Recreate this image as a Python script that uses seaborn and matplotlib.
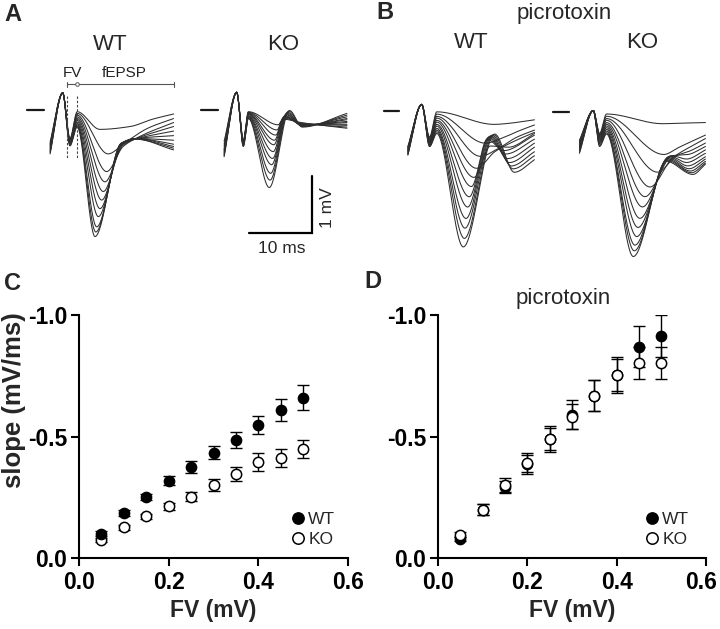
import numpy as np
import pandas as pd
import matplotlib
matplotlib.use("Agg")
import matplotlib.pyplot as plt
import matplotlib.transforms as mtransforms
from matplotlib.lines import Line2D
from matplotlib.ticker import FormatStrFormatter
import seaborn as sns

sns.set_theme(style="ticks")
plt.rcParams["font.family"] = ["Liberation Sans", "DejaVu Sans"]
plt.rcParams["axes.unicode_minus"] = False

# ---------------- data: bottom panels (slope vs fibre volley) ----------------
FV = [0.05, 0.10, 0.15, 0.20, 0.25, 0.30, 0.35, 0.40, 0.45, 0.50]

C_WT_mean = [-0.100, -0.185, -0.251, -0.318, -0.373, -0.434, -0.486, -0.547, -0.610, -0.660]
C_WT_sem = [0.010, 0.012, 0.014, 0.018, 0.025, 0.027, 0.032, 0.038, 0.046, 0.051]
C_KO_mean = [-0.073, -0.127, -0.171, -0.212, -0.253, -0.301, -0.345, -0.395, -0.411, -0.449]
C_KO_sem = [0.008, 0.010, 0.012, 0.014, 0.018, 0.024, 0.029, 0.036, 0.038, 0.038]

D_WT_mean = [-0.078, -0.199, -0.292, -0.385, -0.490, -0.589, -0.668, -0.753, -0.870, -0.914]
D_WT_sem = [0.010, 0.022, 0.025, 0.040, 0.054, 0.060, 0.065, 0.073, 0.085, 0.086]
D_KO_mean = [-0.096, -0.199, -0.301, -0.393, -0.490, -0.582, -0.668, -0.753, -0.804, -0.804]
D_KO_sem = [0.010, 0.022, 0.030, 0.040, 0.045, 0.050, 0.065, 0.066, 0.066, 0.066]

GROUPS = ["WT", "KO"]
X_TICKS = [0.0, 0.2, 0.4, 0.6]
Y_TICKS = [-1.0, -0.5, 0.0]

# ---------------- data: example traces (ms, mV) ----------------
# panel shape: (start time, stimulus artefact peak, FV trough time, FV peak time, end time)
A_WT_shape = (-2.0, 0.30, 1.15, 2.30, 17.6)
A_KO_shape = (-2.0, 0.31, 1.05, 1.85, 17.5)
B_WT_shape = (-2.2, 0.11, 1.25, 2.40, 17.9)
B_KO_shape = (-2.2, 0.03, 1.00, 2.10, 17.8)

# baseline stub before the artefact (ms)
A_WT_stub = [-5.67, -2.97]
A_KO_stub = [-5.60, -2.90]
B_WT_stub = [-5.95, -3.60]
B_KO_stub = [-6.40, -3.90]

# per trace: (start v, FV trough v, FV peak v, trough t, trough v, knee t, knee v, late t, late v, end v)
A_WT = [
    (-0.56, -0.50, -0.03, 5.90, -0.34, 10.70, -0.29, 14.3, -0.16, -0.07),
    (-0.59, -0.51, -0.06, 7.20, -0.77, 9.80, -0.58, 13.5, -0.32, -0.15),
    (-0.61, -0.53, -0.09, 6.98, -1.08, 9.60, -0.64, 12.5, -0.45, -0.22),
    (-0.63, -0.54, -0.12, 6.71, -1.26, 9.55, -0.62, 12.2, -0.48, -0.29),
    (-0.65, -0.55, -0.15, 6.45, -1.43, 9.50, -0.60, 11.9, -0.50, -0.37),
    (-0.67, -0.56, -0.18, 6.19, -1.58, 9.45, -0.59, 11.8, -0.50, -0.45),
    (-0.69, -0.57, -0.21, 5.92, -1.73, 9.40, -0.58, 11.7, -0.50, -0.53),
    (-0.71, -0.58, -0.24, 5.66, -1.87, 9.35, -0.58, 11.6, -0.50, -0.60),
    (-0.73, -0.60, -0.26, 5.40, -2.05, 9.30, -0.58, 11.6, -0.50, -0.64),
    (-0.75, -0.61, -0.28, 5.25, -2.14, 9.25, -0.59, 11.5, -0.51, -0.67),
    (-0.77, -0.63, -0.30, 5.13, -2.22, 9.20, -0.60, 11.5, -0.51, -0.70),
]
A_KO = [
    (-0.55, -0.53, -0.03, 6.60, -0.26, 7.30, -0.16, 10.2, -0.22, -0.32),
    (-0.60, -0.54, -0.04, 6.40, -0.35, 7.40, -0.14, 10.2, -0.23, -0.30),
    (-0.64, -0.55, -0.05, 6.20, -0.44, 7.50, -0.12, 10.2, -0.24, -0.27),
    (-0.68, -0.56, -0.06, 6.00, -0.53, 7.60, -0.11, 10.2, -0.25, -0.25),
    (-0.70, -0.57, -0.07, 5.90, -0.61, 7.70, -0.10, 10.2, -0.26, -0.22),
    (-0.72, -0.58, -0.08, 5.80, -0.73, 7.80, -0.08, 10.2, -0.26, -0.20),
    (-0.74, -0.59, -0.10, 5.70, -0.85, 7.90, -0.07, 10.3, -0.27, -0.17),
    (-0.76, -0.60, -0.11, 5.55, -0.96, 8.00, -0.05, 10.3, -0.28, -0.15),
    (-0.78, -0.61, -0.12, 5.40, -1.11, 8.10, -0.04, 10.3, -0.28, -0.12),
    (-0.80, -0.63, -0.14, 5.30, -1.23, 8.25, -0.02, 10.4, -0.29, -0.09),
    (-0.82, -0.64, -0.15, 5.17, -1.36, 8.40, -0.01, 10.4, -0.30, -0.06),
]
B_WT = [
    (-0.63, -0.46, -0.02, 11.50, -0.24, 14.0, -0.22, 16.0, -0.19, -0.16),
    (-0.64, -0.48, -0.06, 10.10, -0.57, 12.8, -0.48, 15.3, -0.36, -0.25),
    (-0.66, -0.50, -0.10, 9.30, -0.80, 12.2, -0.66, 15.0, -0.47, -0.34),
    (-0.67, -0.51, -0.13, 8.70, -1.01, 11.6, -0.72, 14.6, -0.54, -0.38),
    (-0.68, -0.53, -0.17, 8.30, -1.17, 10.9, -0.62, 13.8, -0.64, -0.40),
    (-0.70, -0.54, -0.20, 7.90, -1.33, 10.4, -0.50, 13.0, -0.70, -0.43),
    (-0.71, -0.56, -0.24, 7.55, -1.51, 10.6, -0.47, 13.3, -0.76, -0.50),
    (-0.72, -0.57, -0.27, 7.30, -1.69, 10.8, -0.45, 13.6, -0.84, -0.57),
    (-0.74, -0.59, -0.31, 7.03, -1.89, 11.0, -0.44, 13.9, -0.91, -0.64),
    (-0.75, -0.60, -0.34, 6.87, -2.06, 11.2, -0.43, 14.2, -0.97, -0.72),
    (-0.77, -0.62, -0.37, 6.77, -2.24, 11.4, -0.42, 14.5, -1.02, -0.79),
    (-0.78, -0.63, -0.40, 6.60, -2.39, 11.6, -0.41, 14.7, -1.08, -0.86),
]
B_KO = [
    (-0.49, -0.37, -0.03, 11.00, -0.20, 14.0, -0.19, 16.0, -0.185, -0.18),
    (-0.51, -0.39, -0.07, 11.20, -0.74, 13.5, -0.62, 15.8, -0.50, -0.40),
    (-0.53, -0.41, -0.11, 10.20, -1.05, 13.2, -0.75, 15.5, -0.60, -0.46),
    (-0.55, -0.43, -0.14, 9.00, -1.31, 12.8, -0.78, 15.3, -0.68, -0.54),
    (-0.57, -0.45, -0.18, 8.20, -1.48, 12.6, -0.76, 15.0, -0.74, -0.60),
    (-0.59, -0.47, -0.21, 7.80, -1.66, 12.4, -0.76, 14.8, -0.82, -0.66),
    (-0.61, -0.49, -0.24, 7.40, -1.86, 12.2, -0.77, 14.8, -0.88, -0.72),
    (-0.63, -0.51, -0.27, 7.10, -2.02, 12.0, -0.78, 15.0, -0.94, -0.78),
    (-0.65, -0.53, -0.30, 6.90, -2.18, 11.9, -0.80, 15.2, -0.99, -0.82),
    (-0.67, -0.55, -0.33, 6.60, -2.33, 11.8, -0.82, 15.4, -1.03, -0.86),
    (-0.70, -0.58, -0.36, 6.50, -2.43, 11.7, -0.84, 15.6, -1.06, -0.89),
    (-0.72, -0.60, -0.38, 6.35, -2.53, 11.6, -0.86, 15.8, -1.09, -0.91),
]

# ---------------- layout helpers ----------------
W, H = 720, 629
fig = plt.figure(figsize=(W / 100, H / 100), dpi=100)


def px_axes(left, top, right, bottom):
    return fig.add_axes([left / W, 1 - bottom / H, (right - left) / W, (bottom - top) / H])


def ftext(x, y, s, **kw):
    fig.text(x / W, 1 - y / H, s, **kw)


PX_MS, PX_MV = 6.3, 57.0
XL, YL = (-6.5, 19.0), (-2.65, 0.8)


def trace_axes(x0, y0):
    ax = px_axes(x0 + XL[0] * PX_MS, y0 - YL[1] * PX_MV, x0 + XL[1] * PX_MS, y0 - YL[0] * PX_MV)
    ax.set_xlim(XL)
    ax.set_ylim(YL)
    ax.axis("off")
    return ax


def smooth(xk, yk, xq):
    """monotone cubic curve through the read points (for drawing only)"""
    xk = np.asarray(xk, float)
    yk = np.asarray(yk, float)
    h = np.diff(xk)
    d = np.diff(yk) / h
    n = len(xk)
    m = np.zeros(n)
    for k in range(1, n - 1):
        if d[k - 1] * d[k] > 0:
            w1 = 2 * h[k] + h[k - 1]
            w2 = h[k] + 2 * h[k - 1]
            m[k] = (w1 + w2) / (w1 / d[k - 1] + w2 / d[k])
    m[0], m[-1] = d[0], d[-1]
    i = np.clip(np.searchsorted(xk, xq, side="right") - 1, 0, n - 2)
    s = (xq - xk[i]) / h[i]
    return ((2 * s**3 - 3 * s**2 + 1) * yk[i] + (s**3 - 2 * s**2 + s) * h[i] * m[i]
            + (-2 * s**3 + 3 * s**2) * yk[i + 1] + (s**3 - s**2) * h[i] * m[i + 1])


def draw_traces(ax, shape, traces, stub):
    t_start, v_art, t_fvt, t_fvp, t_end = shape
    frames = []
    for k, tr in enumerate(traces):
        v0, vfvt, vfvp, tt, tv, kt, kv, lt, lv, ve = tr
        ts = [t_start, 0.0, t_fvt, t_fvp, tt, kt, lt, t_end]
        vs = [v0, v_art, vfvt, vfvp, tv, kv, lv, ve]
        tq = np.union1d(np.arange(t_start, t_end, 0.04), ts)
        frames.append(pd.DataFrame({"t": tq, "v": smooth(ts, vs, tq), "trace": k}))
    df = pd.concat(frames)
    sns.lineplot(data=df, x="t", y="v", units="trace", estimator=None, sort=False,
                 color="#2e2e2e", linewidth=0.75, ax=ax, legend=False)
    sdf = pd.DataFrame({"t": stub, "v": [0.0, 0.0]})
    sns.lineplot(data=sdf, x="t", y="v", color="#1a1a1a", linewidth=1.6, ax=ax, legend=False)
    ax.set_xlim(XL)
    ax.set_ylim(YL)
    ax.axis("off")


axA1 = trace_axes(62.7, 110.0)
axA2 = trace_axes(236.7, 110.0)
axB1 = trace_axes(421.7, 110.7)
axB2 = trace_axes(593.3, 112.3)
draw_traces(axA1, A_WT_shape, A_WT, A_WT_stub)
draw_traces(axA2, A_KO_shape, A_KO, A_KO_stub)
draw_traces(axB1, B_WT_shape, B_WT, B_WT_stub)
draw_traces(axB2, B_KO_shape, B_KO, B_KO_stub)

# FV / fEPSP annotation
for tx in (0.68, 2.27):
    axA1.plot([tx, tx], [0.25, -0.84], color="#444444", lw=0.8, ls=(0, (2.2, 1.6)), clip_on=False)
axA1.plot([0.68, 17.67], [0.456, 0.456], color="#555555", lw=0.8, clip_on=False)
for tx in (0.68, 17.67):
    axA1.plot([tx, tx], [0.41, 0.50], color="#555555", lw=0.8, clip_on=False)
axA1.plot([2.27], [0.456], marker="o", ms=2.6, mfc="white", mec="#555555", mew=0.7, clip_on=False)
axA1.text(1.6, 0.456 + 0.07, "FV", ha="center", va="bottom", fontsize=11, color="#222222")
axA1.text(9.76, 0.456 + 0.07, "fEPSP", ha="center", va="bottom", fontsize=11, color="#222222")

# scale bar (10 ms, 1 mV)
axA2.plot([1.95, 11.95, 11.95], [-2.16, -2.16, -1.16], color="black", lw=1.6,
          solid_joinstyle="miter", clip_on=False)
axA2.text(7.1, -2.43, "10 ms", ha="center", va="center", fontsize=12.5)
axA2.text(14.4, -1.72, "1 mV", ha="center", va="center", rotation=90, fontsize=12.5)

# top titles
ftext(110, 50, "WT", ha="center", va="baseline", fontsize=16)
ftext(283, 50, "KO", ha="center", va="baseline", fontsize=16)
ftext(471, 48.5, "WT", ha="center", va="baseline", fontsize=16)
ftext(642, 48.5, "KO", ha="center", va="baseline", fontsize=16)
ftext(564, 18.5, "picrotoxin", ha="center", va="baseline", fontsize=16)

# ---------------- bottom panels ----------------
axC = px_axes(79, 315, 348, 558)
axD = px_axes(438, 315, 706, 558)

open_kw = dict(facecolor="white", edgecolor="black", linewidth=1.1, s=55)
fill_kw = dict(facecolor="black", edgecolor="black", linewidth=1.0, s=55)
err_kw = dict(fmt="none", ecolor="black", elinewidth=1.0, capsize=4.2, capthick=1.0)


def draw_group(ax, mean, sem, kw, z):
    ax.errorbar(FV, mean, yerr=sem, zorder=z, **err_kw)
    sns.scatterplot(x=FV, y=mean, ax=ax, zorder=z + 1, legend=False, **kw)


draw_group(axC, C_KO_mean, C_KO_sem, open_kw, 2)
draw_group(axC, C_WT_mean, C_WT_sem, fill_kw, 4)
draw_group(axD, D_WT_mean, D_WT_sem, fill_kw, 2)
draw_group(axD, D_KO_mean, D_KO_sem, open_kw, 4)

for ax, lx in ((axC, 0.785), (axD, 0.769)):
    ax.set_xlim(0, 0.6)
    ax.set_ylim(0, -1.0)
    ax.set_xticks(X_TICKS)
    ax.set_yticks(Y_TICKS)
    ax.xaxis.set_major_formatter(FormatStrFormatter("%.1f"))
    ax.yaxis.set_major_formatter(FormatStrFormatter("%.1f"))
    sns.despine(ax=ax)
    for sp in ("left", "bottom"):
        ax.spines[sp].set_linewidth(1.5)
        ax.spines[sp].set_color("black")
    ax.tick_params(direction="out", length=5.5, width=1.5, colors="black", labelsize=16.5)
    ax.tick_params(axis="x", pad=4)
    ax.tick_params(axis="y", pad=3)
    for lab in ax.get_xticklabels() + ax.get_yticklabels():
        lab.set_fontweight("bold")
    ax.set_xlabel("FV (mV)", fontsize=16.5, fontweight="bold")
    ax.xaxis.set_label_coords(0.5, -0.168)
    ax.set_ylabel("")
    ax.set_facecolor("none")
    handles = [
        Line2D([], [], ls="none", marker="o", ms=8.2, mfc="black", mec="black", mew=1.0),
        Line2D([], [], ls="none", marker="o", ms=8.2, mfc="white", mec="black", mew=1.1),
    ]
    ax.legend(handles, GROUPS, loc="lower left", bbox_to_anchor=(lx, 0.045), frameon=False,
              fontsize=12.5, handlelength=0.9, handletextpad=0.15, labelspacing=0.28,
              borderpad=0, borderaxespad=0)

# keep the last tick label of panel D inside the picture
last = axD.get_xticklabels()[-1]
last.set_transform(last.get_transform() + mtransforms.ScaledTranslation(-5 / 100, 0, fig.dpi_scale_trans))

ftext(14, 400, "slope (mV/ms)", ha="center", va="center", rotation=90, fontsize=18.5, fontweight="bold")
ftext(563, 304, "picrotoxin", ha="center", va="baseline", fontsize=16)

# panel letters
for lx, ly, s in ((12.5, 20.7, "A"), (385, 19, "B"), (13, 290, "C"), (373, 288, "D")):
    ftext(lx, ly, s, ha="center", va="baseline", fontsize=17, fontweight="bold")

fig.savefig("out.png", dpi=100)
